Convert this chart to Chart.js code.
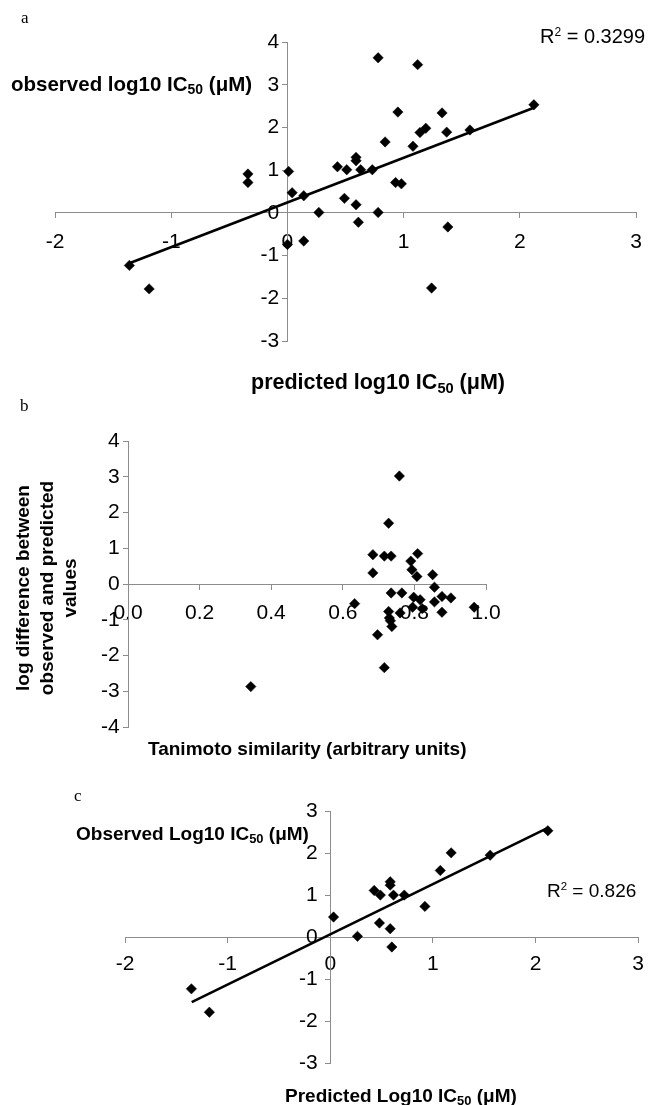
<!DOCTYPE html>
<html>
<head>
<meta charset="utf-8">
<script src="https://cdn.jsdelivr.net/npm/chart.js@4.4.1/dist/chart.umd.min.js"></script>
<style>
body { margin: 0; background: #fff; width: 654px; height: 1105px; position: relative; overflow: hidden;
       font-family: 'Liberation Sans', Arial, sans-serif; color: #000; }
canvas { position: absolute; left: 0; }
.lbl { position: absolute; white-space: nowrap; line-height: 1; }
.titulo { font-weight: bold; font-size: 20px; }
.letra { font-family: 'Liberation Serif', 'Times New Roman', serif; font-size: 17px; }
.r2 { font-size: 19px; }
sub { font-size: 0.68em; vertical-align: -0.25em; line-height: 0; }
sup { font-size: 0.6em; vertical-align: 0.6em; line-height: 0; }
#tituloYb { position: absolute; width: 260px; text-align: center; line-height: 23.5px; font-size: 19px;
            left: -84px; top: 553px; transform: rotate(-90deg); transform-origin: 130px 35px; }
</style>
</head>
<body>
<canvas id="graficoA" width="654" height="390" style="top:0px"></canvas>
<canvas id="graficoB" width="654" height="370" style="top:390px"></canvas>
<canvas id="graficoC" width="654" height="345" style="top:760px"></canvas>

<div class="lbl letra" style="left:21px;top:9px">a</div>
<div class="lbl r2" style="left:540px;top:26px;font-size:20px">R<sup>2</sup> = 0.3299</div>
<div class="lbl titulo" style="left:11px;top:74px;font-size:20.5px">observed log10 IC<sub>50</sub> (&mu;M)</div>
<div class="lbl titulo" style="left:251px;top:372px;font-size:21.5px">predicted log10 IC<sub>50</sub> (&mu;M)</div>

<div class="lbl letra" style="left:20px;top:397px">b</div>
<div id="tituloYb" class="titulo">log difference between<br>observed and predicted<br>values</div>
<div class="lbl titulo" style="left:148px;top:739px;font-size:19px">Tanimoto similarity (arbitrary units)</div>

<div class="lbl letra" style="left:74px;top:787px">c</div>
<div class="lbl titulo" style="left:76px;top:824px;font-size:19px">Observed Log10 IC<sub>50</sub> (&mu;M)</div>
<div class="lbl r2" style="left:547px;top:881px">R<sup>2</sup> = 0.826</div>
<div class="lbl titulo" style="left:285px;top:1086px;font-size:19px">Predicted Log10 IC<sub>50</sub> (&mu;M)</div>

<script>
// painel a: previsto vs observado (todos os compostos)
var previstoA = [-1.36, -1.19, -0.34, -0.34, 0.01, 0.04, 0.00, 0.14, 0.14, 0.27, 0.43, 0.49, 0.51, 0.59, 0.59, 0.59, 0.61, 0.63,
                 0.73, 0.78, 0.78, 0.84, 0.93, 0.95, 0.98, 1.08, 1.12, 1.14, 1.19, 1.24, 1.33, 1.37, 1.38, 1.57, 2.12];
var observadoA = [-1.23, -1.78, 0.71, 0.91, 0.97, 0.47, -0.74, 0.40, -0.66, 0.01, 1.08, 0.34, 1.01, 1.30, 1.22, 0.19, -0.22, 1.01,
                  1.01, 3.63, 0.01, 1.66, 0.71, 2.36, 0.68, 1.56, 3.47, 1.88, 1.98, -1.76, 2.34, 1.89, -0.33, 1.94, 2.53];
var tendenciaAX = [-1.35, 2.12];
var tendenciaAY = [-1.17, 2.46];

// painel b: similaridade de Tanimoto vs diferenca log
var tanimotoB = [0.758, 0.728, 0.684, 0.716, 0.735, 0.684, 0.809, 0.790, 0.793, 0.807, 0.851, 0.856, 0.735, 0.765, 0.633, 0.798,
                 0.816, 0.795, 0.822, 0.856, 0.877, 0.902, 0.877, 0.967, 0.760, 0.728, 0.730, 0.733, 0.737, 0.697, 0.716, 0.343];
var diferencaB = [3.02, 1.70, 0.82, 0.78, 0.78, 0.31, 0.85, 0.64, 0.40, 0.21, 0.26, -0.09, -0.25, -0.25, -0.55, -0.37,
                  -0.44, -0.65, -0.69, -0.50, -0.35, -0.39, -0.79, -0.65, -0.81, -0.77, -0.95, -1.03, -1.19, -1.42, -2.34, -2.87];

// painel c: previsto vs observado (subconjunto)
var previstoC = [-1.353, -1.178, 0.032, 0.265, 0.428, 0.488, 0.479, 0.584, 0.584, 0.616, 0.584, 0.600, 0.721, 0.922, 1.072, 1.178, 1.558, 2.12];
var observadoC = [-1.235, -1.79, 0.475, 0.016, 1.108, 0.998, 0.333, 1.314, 1.235, 0.998, 0.198, -0.238, 0.998, 0.728, 1.584, 2.003, 1.948, 2.53];
var tendenciaCX = [-1.35, 2.12];
var tendenciaCY = [-1.55, 2.60];

// limites dos eixos
var eixoXA = [-2, 3], eixoYA = [-3, 4];
var eixoXB = [0, 1], eixoYB = [-4, 4];
var eixoXC = [-2, 3], eixoYC = [-3, 3];

var FONTE = "'Liberation Sans', Arial, sans-serif";

function pontos(xs, ys) {
	return xs.map(function(x, i) { return {x: x, y: ys[i]}; });
}

// o Chart.js ignora o padding nos eixos com posicao {x: 0}, por isso os espacos finos no fim do rotulo
function eixo(limites, passo, posicao, padding, casas, espacos) {
	return {
		type: 'linear',
		min: limites[0],
		max: limites[1],
		position: posicao,
		grid: { drawOnChartArea: false, color: '#8c8c8c', tickLength: 5, lineWidth: 1 },
		border: { display: true, color: '#8c8c8c', width: 1 },
		ticks: {
			stepSize: passo,
			autoSkip: false,
			padding: padding,
			color: '#000',
			font: { family: FONTE, size: 21 },
			callback: function(v) {
				var txt = casas ? v.toFixed(casas) : String(v);
				return espacos ? txt + espacos : txt;
			}
		}
	};
}

function criarGrafico(id, area, dados, tendencia, escalaX, escalaY) {
	var datasets = [{
		type: 'scatter',
		data: dados,
		pointStyle: 'rectRot',
		pointRadius: 5.2,
		pointBackgroundColor: '#000',
		pointBorderColor: '#000',
		pointBorderWidth: 0.5
	}];
	if (tendencia) {
		datasets.push({
			type: 'line',
			data: tendencia,
			borderColor: '#000',
			borderWidth: 2.6,
			pointRadius: 0,
			fill: false
		});
	}
	return new Chart(document.getElementById(id).getContext('2d'), {
		type: 'scatter',
		data: { datasets: datasets },
		options: {
			responsive: false,
			animation: false,
			devicePixelRatio: 1,
			layout: { padding: area },
			plugins: { legend: { display: false }, tooltip: { enabled: false } },
			scales: { x: escalaX, y: escalaY }
		}
	});
}

criarGrafico('graficoA',
	{ left: 55, right: 8, top: 42, bottom: 49 },
	pontos(previstoA, observadoA),
	pontos(tendenciaAX, tendenciaAY),
	eixo(eixoXA, 1, { y: 0 }, 12),
	eixo(eixoYA, 1, { x: 0 }, 0, 0, '\u2009\u2009'));

criarGrafico('graficoB',
	{ left: 128, right: 168, top: 51, bottom: 33 },
	pontos(tanimotoB, diferencaB),
	null,
	eixo(eixoXB, 0.2, { y: 0 }, 12, 1),
	eixo(eixoYB, 1, { x: 0 }, 0, 0, '\u2009\u2009'));

criarGrafico('graficoC',
	{ left: 125, right: 7, top: 51, bottom: 42 },
	pontos(previstoC, observadoC),
	pontos(tendenciaCX, tendenciaCY),
	eixo(eixoXC, 1, { y: 0 }, 10),
	eixo(eixoYC, 1, { x: 0 }, 0, 0, '\u2009\u2009\u2009'));
</script>
</body>
</html>
